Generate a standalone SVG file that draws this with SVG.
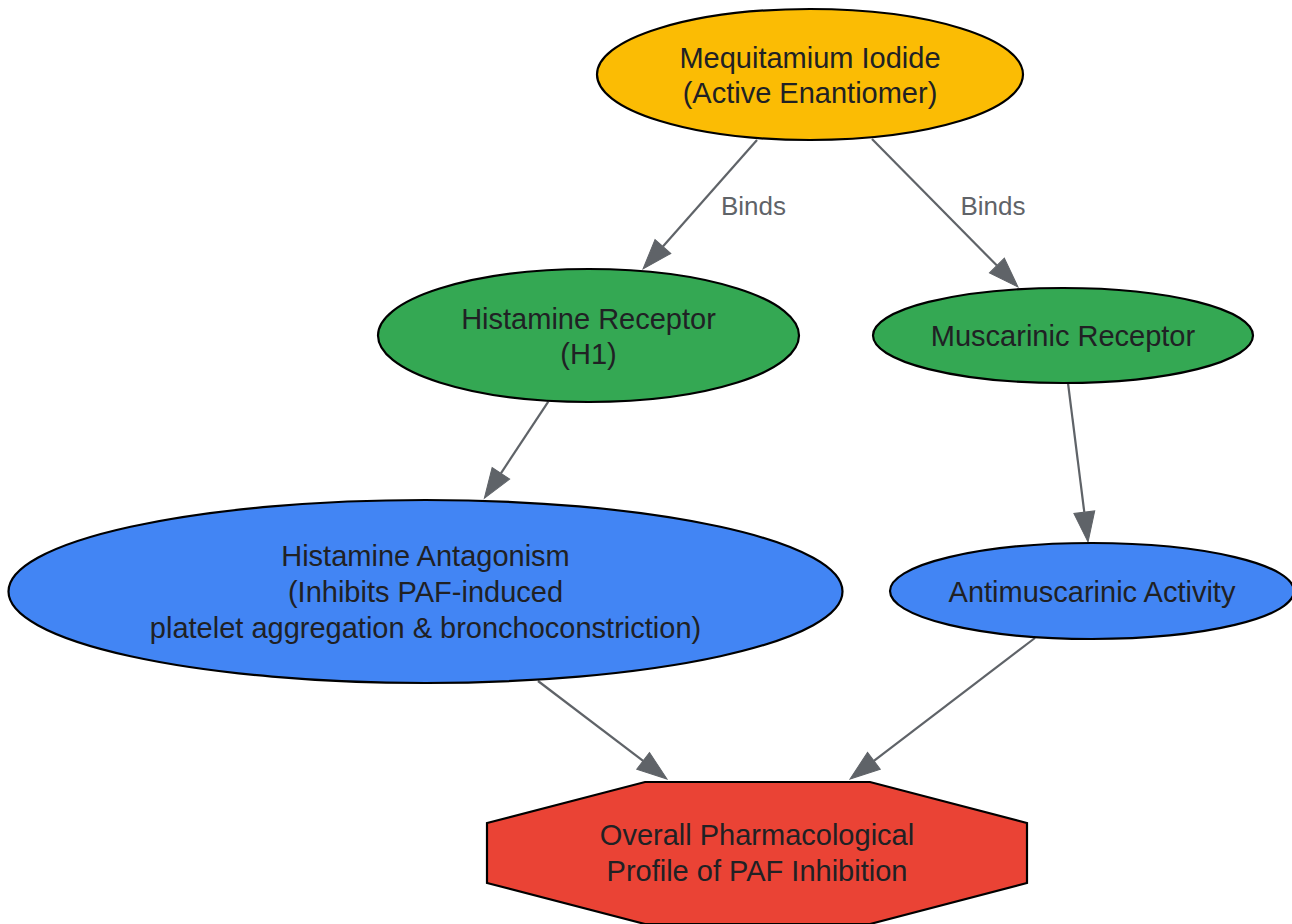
<svg xmlns="http://www.w3.org/2000/svg" width="1292" height="924" viewBox="0 0 1292 924">
<defs>
<style>
.node{stroke:#000;stroke-width:2.2}
.lbl{font-family:"Liberation Sans",Arial,sans-serif;font-size:29px;fill:#202124;text-anchor:middle}
.edge{stroke:#5f6368;stroke-width:2.2;fill:none}
.elbl{font-family:"Liberation Sans",Arial,sans-serif;font-size:26px;fill:#5f6368;text-anchor:middle}
</style>
<marker id="arr" markerUnits="userSpaceOnUse" markerWidth="32" markerHeight="24" refX="0" refY="11" orient="auto" viewBox="0 0 32 22" overflow="visible">
<path d="M0,0.5 L30,11 L0,21.5 Z" fill="#5f6368" stroke="#5f6368" stroke-width="1"/>
</marker>
</defs>
<rect width="1292" height="924" fill="#fff"/>
<g id="connectors">
<line class="edge" x1="757" y1="140" x2="662.9" y2="246.5" marker-end="url(#arr)"/>
<text class="elbl" x="753.5" y="215">Binds</text>
<line class="edge" x1="872" y1="139" x2="996.9" y2="265.6" marker-end="url(#arr)"/>
<text class="elbl" x="993" y="215">Binds</text>
<line class="edge" x1="548.3" y1="401.7" x2="500.9" y2="473.3" marker-end="url(#arr)"/>
<line class="edge" x1="1068" y1="383" x2="1084.3" y2="512.2" marker-end="url(#arr)"/>
<line class="edge" x1="538" y1="681" x2="643.1" y2="760.9" marker-end="url(#arr)"/>
<line class="edge" x1="1035" y1="638" x2="873.9" y2="760.8" marker-end="url(#arr)"/>
</g>
<g id="mequitamium">
<ellipse class="node" cx="810" cy="74.5" rx="213" ry="65.5" fill="#fbbc04"/>
<text class="lbl" x="810" y="68">Mequitamium Iodide</text>
<text class="lbl" x="810" y="103">(Active Enantiomer)</text>
</g>
<g id="histamine_receptor">
<ellipse class="node" cx="588.5" cy="335.5" rx="210.5" ry="66.5" fill="#34a853"/>
<text class="lbl" x="588.5" y="329">Histamine Receptor</text>
<text class="lbl" x="588.5" y="364">(H1)</text>
</g>
<g id="muscarinic_receptor">
<ellipse class="node" cx="1063" cy="335.5" rx="190" ry="47.5" fill="#34a853"/>
<text class="lbl" x="1063" y="346">Muscarinic Receptor</text>
</g>
<g id="histamine_antagonism">
<ellipse class="node" cx="425.5" cy="591.5" rx="417" ry="91.5" fill="#4285f4"/>
<text class="lbl" x="425.5" y="566">Histamine Antagonism</text>
<text class="lbl" x="425.5" y="602">(Inhibits PAF-induced</text>
<text class="lbl" x="425.5" y="638">platelet aggregation &amp; bronchoconstriction)</text>
</g>
<g id="antimuscarinic">
<ellipse class="node" cx="1092" cy="591" rx="202" ry="48" fill="#4285f4"/>
<text class="lbl" x="1092" y="602">Antimuscarinic Activity</text>
</g>
<g id="overall_profile">
<polygon class="node" points="645,782 870,782 1027,823 1027,883 870,924 645,924 487,883 487,823" fill="#ea4335"/>
<text class="lbl" x="757" y="845">Overall Pharmacological</text>
<text class="lbl" x="757" y="881">Profile of PAF Inhibition</text>
</g>
</svg>
